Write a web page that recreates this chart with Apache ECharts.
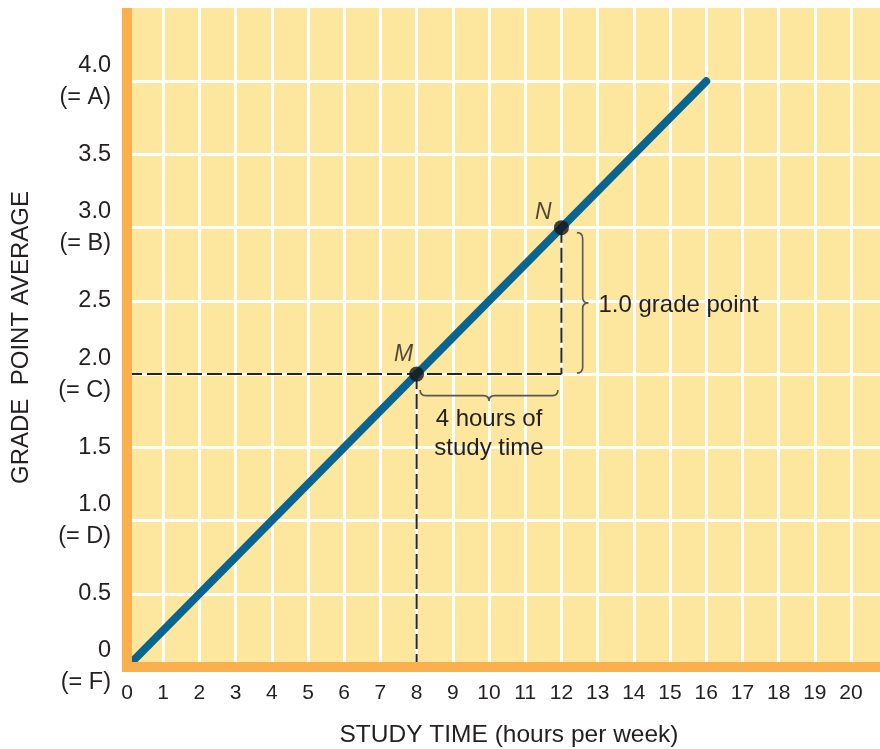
<!DOCTYPE html>
<html>
<head>
<meta charset="utf-8">
<script src="https://cdn.jsdelivr.net/npm/echarts@6/dist/echarts.min.js"></script>
<style>
  html, body { margin: 0; padding: 0; background: #ffffff; }
  #chart { width: 880px; height: 749px; }
</style>
</head>
<body>
<div id="chart"></div>
<script>
// Study time vs. grade point average: a straight-line relationship
const studyHours = [0, 16];
const gradePoints = [0, 4];

// Marked points on the line
const pointNames = ['M', 'N'];
const pointHours = [8, 12];
const pointGrades = [2, 3];

// Axis ticks and labels
const xTickValues = [0, 1, 2, 3, 4, 5, 6, 7, 8, 9, 10, 11, 12, 13, 14, 15, 16, 17, 18, 19, 20];
const yTickValues = [0, 0.5, 1, 1.5, 2, 2.5, 3, 3.5, 4];
const yTickLabels = ['0\n(= F)', '0.5', '1.0\n(= D)', '1.5', '2.0\n(= C)', '2.5', '3.0\n(= B)', '3.5', '4.0\n(= A)'];

// Texts
const xName = 'STUDY TIME (hours per week)';
const yName = 'GRADE  POINT AVERAGE';
const hourSpanText = '4 hours of\nstudy time';
const gradeSpanText = '1.0 grade point';

const FONT = '"Liberation Sans", Arial, Helvetica, sans-serif';
const TEXT = '#231f20';
const ORANGE = '#fbb04d';
const PAPER = '#fde69d';
const LINE = '#0a6490';

const chart = echarts.init(document.getElementById('chart'), null, { renderer: 'canvas' });

// dashed guide lines built from the two marked points
const guides = [
  [[0, pointGrades[0]], [pointHours[1], pointGrades[0]]],
  [[pointHours[0], pointGrades[0]], [pointHours[0], 0]],
  [[pointHours[1], pointGrades[1]], [pointHours[1], pointGrades[0]]]
];

// curly brace path: horizontal ones open upward, vertical ones open leftward
function bracePath(x1, y1, x2, y2, depth, horizontal) {
  const h = depth / 2;
  if (horizontal) {
    const xm = (x1 + x2) / 2;
    return 'M' + x1 + ' ' + y1 +
      ' Q' + x1 + ' ' + (y1 + h) + ' ' + (x1 + h) + ' ' + (y1 + h) +
      ' L' + (xm - h) + ' ' + (y1 + h) +
      ' Q' + xm + ' ' + (y1 + h) + ' ' + xm + ' ' + (y1 + depth) +
      ' Q' + xm + ' ' + (y1 + h) + ' ' + (xm + h) + ' ' + (y1 + h) +
      ' L' + (x2 - h) + ' ' + (y1 + h) +
      ' Q' + x2 + ' ' + (y1 + h) + ' ' + x2 + ' ' + y2;
  }
  const ym = (y1 + y2) / 2;
  return 'M' + x1 + ' ' + y1 +
    ' Q' + (x1 + h) + ' ' + y1 + ' ' + (x1 + h) + ' ' + (y1 + h) +
    ' L' + (x1 + h) + ' ' + (ym - h) +
    ' Q' + (x1 + h) + ' ' + ym + ' ' + (x1 + depth) + ' ' + ym +
    ' Q' + (x1 + h) + ' ' + ym + ' ' + (x1 + h) + ' ' + (ym + h) +
    ' L' + (x1 + h) + ' ' + (y2 - h) +
    ' Q' + (x1 + h) + ' ' + y2 + ' ' + x2 + ' ' + y2;
}

function renderAnnotations(params, api) {
  const m = api.coord([pointHours[0], pointGrades[0]]);
  const n = api.coord([pointHours[1], pointGrades[1]]);
  const nLow = api.coord([pointHours[1], pointGrades[0]]);
  const braceStyle = { stroke: '#5a5556', lineWidth: 1.6, fill: null };

  // brace under the run (hours)
  const hx1 = m[0] + 3.5, hx2 = nLow[0] - 3.5, hy = m[1] + 16, hd = 11;
  // brace beside the rise (grade points)
  const vx = n[0] + 15.5, vy1 = n[1] + 5, vy2 = m[1] - 1, vd = 11.5;

  return {
    type: 'group',
    children: [
      { type: 'path', shape: { pathData: bracePath(hx1, hy, hx2, hy, hd, true) }, style: braceStyle },
      { type: 'path', shape: { pathData: bracePath(vx, vy1, vx, vy2, vd, false) }, style: braceStyle },
      {
        type: 'text',
        x: (hx1 + hx2) / 2, y: hy + hd + 4,
        style: {
          text: hourSpanText, fill: TEXT, font: '24px ' + FONT,
          align: 'center', verticalAlign: 'top', lineHeight: 29
        }
      },
      {
        type: 'text',
        x: vx + vd + 10, y: (vy1 + vy2) / 2 + 2,
        style: {
          text: gradeSpanText, fill: TEXT, font: '24px ' + FONT,
          align: 'left', verticalAlign: 'middle'
        }
      }
    ]
  };
}

const labelOffsets = [[-13, -20], [-18, -15]];

const option = {
  backgroundColor: '#ffffff',
  animation: false,
  grid: {
    left: 127, right: 0, top: 8, bottom: 82,
    outerBoundsMode: 'none', containLabel: false,
    show: true, backgroundColor: PAPER, borderWidth: 0
  },
  xAxis: [
    {
      type: 'value', min: 0, max: 20.8, interval: 1, position: 'bottom',
      axisLine: { show: false }, axisTick: { show: false },
      splitLine: { show: true, showMaxLine: false, lineStyle: { color: '#ffffff', width: 3 } },
      axisLabel: {
        margin: 16, color: TEXT, fontFamily: FONT, fontSize: 21, showMaxLabel: false,
        formatter: v => (xTickValues.indexOf(v) >= 0 ? String(v) : '')
      },
      name: xName, nameLocation: 'middle', nameGap: 56,
      nameTextStyle: { color: TEXT, fontFamily: FONT, fontSize: 24.5, padding: [0, 0, 0, 11] }
    },
    {
      type: 'value', min: 0, max: 20.8, position: 'bottom', z: 5,
      axisLine: { show: true, onZero: false, lineStyle: { color: ORANGE, width: 10, cap: 'square' } },
      axisTick: { show: false }, axisLabel: { show: false }, splitLine: { show: false }
    }
  ],
  yAxis: [
    {
      type: 'value', min: 0, max: 4.5, interval: 0.5, position: 'left',
      axisLine: { show: false }, axisTick: { show: false },
      splitLine: { show: true, showMaxLine: false, lineStyle: { color: '#ffffff', width: 3 } },
      axisLabel: {
        margin: 16, color: TEXT, fontFamily: FONT, fontSize: 23.5, lineHeight: 32, align: 'right',
        formatter: v => {
          const i = yTickValues.indexOf(v);
          return i >= 0 ? yTickLabels[i] : '';
        }
      },
      name: yName, nameLocation: 'middle', nameGap: 94, nameRotate: 90,
      nameTextStyle: { color: TEXT, fontFamily: FONT, fontSize: 24 }
    },
    {
      type: 'value', min: 0, max: 4.5, position: 'left', z: 5,
      axisLine: { show: true, onZero: false, lineStyle: { color: ORANGE, width: 10, cap: 'butt' } },
      axisTick: { show: false }, axisLabel: { show: false }, splitLine: { show: false }
    }
  ],
  series: [
    {
      type: 'line', name: 'guides-h', z: 3, silent: true, symbol: 'none',
      data: guides[0], lineStyle: { color: '#262626', width: 2, type: [15, 5] }
    },
    {
      type: 'line', name: 'guides-m', z: 3, silent: true, symbol: 'none',
      data: guides[1], lineStyle: { color: '#262626', width: 2, type: [15, 5] }
    },
    {
      type: 'line', name: 'guides-n', z: 3, silent: true, symbol: 'none',
      data: guides[2], lineStyle: { color: '#262626', width: 2, type: [15, 5] }
    },
    {
      type: 'line', name: 'gpa', z: 4, symbol: 'none',
      data: studyHours.map((h, i) => [h, gradePoints[i]]),
      lineStyle: { color: LINE, width: 8, cap: 'round' }
    },
    {
      type: 'scatter', name: 'points', z: 6, symbol: 'circle', symbolSize: 15,
      itemStyle: { color: '#141414' },
      data: pointHours.map((h, i) => ({
        value: [h, pointGrades[i]], name: pointNames[i],
        label: { offset: labelOffsets[i] }
      })),
      label: {
        show: true, position: 'inside', formatter: p => p.name,
        color: TEXT, fontFamily: FONT, fontSize: 23, fontStyle: 'italic'
      }
    },
    {
      type: 'custom', name: 'annotations', z: 6, silent: true,
      renderItem: renderAnnotations, data: [[pointHours[0], pointGrades[0]]]
    }
  ]
};

chart.setOption(option);
</script>
</body>
</html>
